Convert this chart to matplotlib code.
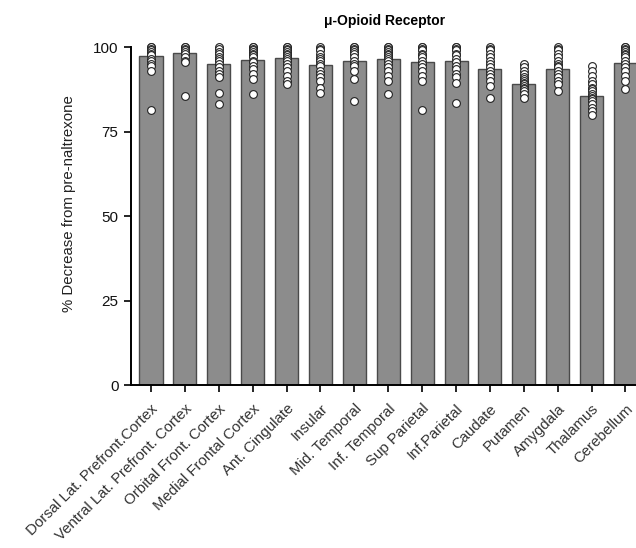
import numpy as np
import matplotlib.pyplot as plt

plt.rcParams['font.family'] = ['Liberation Sans', 'DejaVu Sans']

regions = ['Dorsal Lat. Prefront.Cortex', 'Ventral Lat. Prefront. Cortex',
           'Orbital Front. Cortex', 'Medial Frontal Cortex', 'Ant. Cingulate',
           'Insular', 'Mid. Temporal', 'Inf. Temporal', 'Sup Parietal',
           'Inf.Parietal', 'Caudate', 'Putamen', 'Amygdala', 'Thalamus',
           'Cerebellum']

# group means (% decrease)
means = [97.3, 98.1, 95.1, 96.2, 96.8, 94.8, 96.0, 96.6, 95.7, 96.0,
         93.5, 89.2, 93.5, 85.6, 95.2]

# individual subjects per region
subjects = [
    [100, 100, 99.5, 99, 98.5, 98, 97.5, 96.5, 96, 95, 94.5, 93, 81.5],
    [100, 100, 99.5, 99, 98.5, 98, 97, 96, 95.5, 85.5],
    [100, 99.5, 98.5, 98, 97, 96.5, 96, 95, 94, 93, 92, 91, 86.5, 83],
    [100, 100, 99.5, 99, 98.5, 98, 97.5, 97, 96, 95.5, 94.5, 93.5, 92, 90.5, 86],
    [100, 100, 99.5, 99, 98.5, 98, 97.5, 97, 96.5, 96, 95, 94, 93, 91.5, 90, 89],
    [100, 99.5, 99, 98, 97, 96.5, 96, 95, 94.5, 93, 92, 91, 90, 88, 86.5],
    [100, 100, 99.5, 99, 98.5, 98, 97, 96, 95, 94.5, 93, 90.5, 84],
    [100, 100, 99.5, 99, 98.5, 98, 97.5, 97, 96.5, 96, 95, 94, 93, 91.5, 90, 86],
    [100, 100, 99.5, 99, 98, 97.5, 97, 96, 95, 94, 93, 91.5, 90, 81.5],
    [100, 100, 99.5, 99, 98, 97.5, 96.5, 95.5, 94.5, 93.5, 92, 91, 89.5, 83.5],
    [100, 99.5, 99, 98, 97, 96, 95, 94, 93, 92, 91, 90, 88.5, 85],
    [95, 94, 93, 92, 91, 90.5, 90, 89.5, 89, 88.5, 88, 87.5, 87, 86, 85],
    [100, 99.5, 99, 98, 97, 96, 95, 94.5, 94, 93, 92, 91, 90, 89, 87],
    [94.5, 93, 91.5, 90, 89, 88, 87.5, 87, 86, 85.5, 85, 84.5, 84, 83, 82, 81, 80],
    [100, 100, 99.5, 99, 98.5, 98, 97.5, 97, 96, 95, 94, 93, 91.5, 90, 87.5],
]

x = np.arange(len(regions))

fig = plt.figure(figsize=(6.36, 5.48), dpi=100)
ax = fig.add_axes([0.206, 0.2974, 0.794, 0.6168])

ax.bar(x, means, width=0.68, color='#8c8c8c', edgecolor='#4a4a4a', linewidth=1.0)
for i, vals in enumerate(subjects):
    ax.plot(np.full(len(vals), x[i]), vals, 'o', ms=5.6, mfc='white',
            mec='#222222', mew=0.8, clip_on=False, zorder=3)

ax.set_xlim(-0.59, 14.31)
ax.set_ylim(0, 100)
ax.set_yticks([0, 25, 50, 75, 100])
ax.set_xticks(x)
ax.set_xticklabels(regions, rotation=45, ha='right', rotation_mode='anchor',
                   fontsize=10.8, color='#333333')
ax.tick_params(axis='both', direction='out', length=5, width=1.2)
ax.tick_params(axis='x', pad=7)
ax.tick_params(axis='y', labelsize=11, labelcolor='#111111', pad=4)
for s in ['top', 'right']:
    ax.spines[s].set_visible(False)
for s in ['left', 'bottom']:
    ax.spines[s].set_linewidth(1.4)

ax.set_ylabel('% Decrease from pre-naltrexone', fontsize=10.8, color='#222222')
ax.yaxis.set_label_coords(-0.109, 0.536)
fig.text(0.605, 0.975, 'μ-Opioid Receptor', ha='center', va='top',
         fontsize=10, fontweight='bold')

fig.savefig('out.png', dpi=100)
